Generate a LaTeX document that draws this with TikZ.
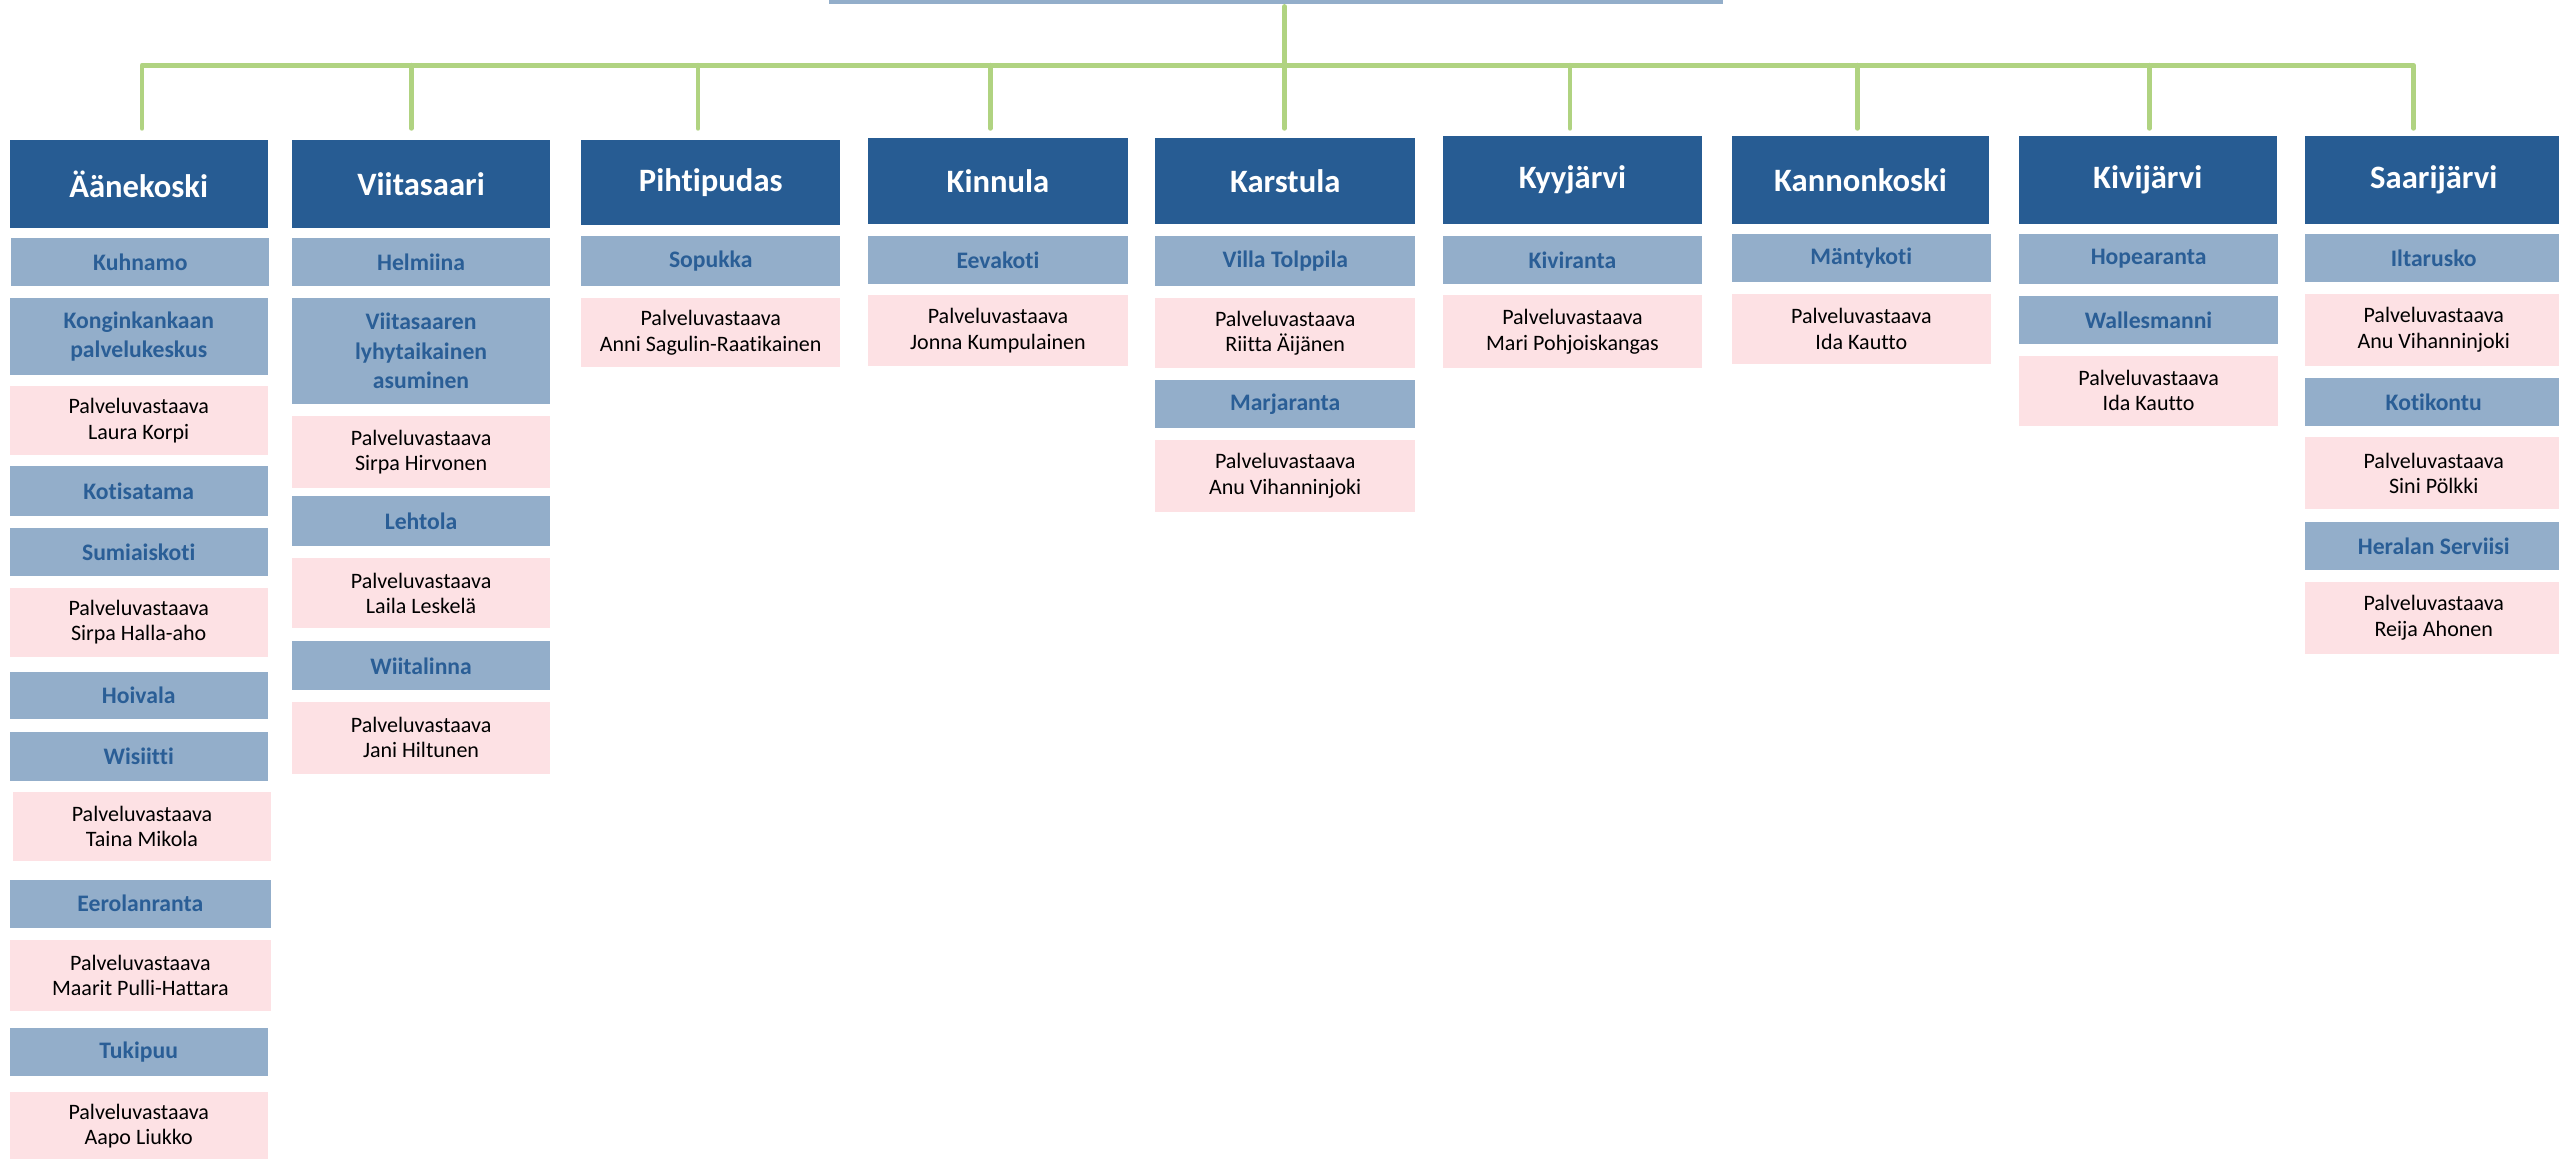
\documentclass[tikz,border=0pt]{standalone}
\usepackage{fontspec}
\setmainfont[Ligatures=NoCommon]{Carlito}
\definecolor{hdrblue}{RGB}{39,92,147}
\definecolor{subfill}{RGB}{147,174,202}
\definecolor{subtext}{RGB}{42,94,150}
\definecolor{pinkfill}{RGB}{253,225,228}
\definecolor{conngreen}{RGB}{176,211,129}
\tikzset{
  basebox/.style={rectangle, inner sep=0pt, outer sep=0pt, align=center},
  hdrbox/.style={basebox, fill=hdrblue, text=white, font=\fontsize{20}{24}\selectfont\bfseries},
  subbox/.style={basebox, fill=subfill, text=subtext, font=\fontsize{14.5}{18}\selectfont\bfseries},
  pinkbox/.style={basebox, fill=pinkfill, text=black, font=\fontsize{13.5}{15.5}\selectfont},
  topbox/.style={basebox, fill=subfill},
  conn/.style={draw=conngreen, line width=3pt, line cap=round, line join=round},
}
\newcommand\bx[7]{\node[#2, minimum width={(#5-#3)*1pt}, minimum height={(#6-#4)*1pt}] (#1) at ({(#3+#5)/2},{(#4+#6)/2}) {#7};}
\begin{document}
\begin{tikzpicture}[x=1pt,y=-1pt]
\useasboundingbox (0,0) rectangle (1568,710);
% top (cut-off) node
\bx{top}{topbox}{508}{-4}{1055.5}{2.5}{}
% headers
\bx{h1}{hdrbox}{6}{86}{164}{140}{Äänekoski}
\bx{h2}{hdrbox}{179}{86}{337}{140}{Viitasaari}
\bx{h3}{hdrbox}{356}{86}{515}{138}{Pihtipudas}
\bx{h4}{hdrbox}{532}{84.5}{691}{137}{Kinnula}
\bx{h5}{hdrbox}{708}{84.5}{867}{137}{Karstula}
\bx{h6}{hdrbox}{884}{83.5}{1043}{137}{Kyyjärvi}
\bx{h7}{hdrbox}{1061}{83.5}{1219}{137}{Kannonkoski}
\bx{h8}{hdrbox}{1237}{83.5}{1395}{137}{Kivijärvi}
\bx{h9}{hdrbox}{1412.5}{83.5}{1570}{137}{Saarijärvi}
% column 1
\bx{a1}{subbox}{7}{146}{165}{175}{Kuhnamo}
\bx{a2}{subbox}{6}{182.6}{164}{230}{Konginkankaan\\palvelukeskus}
\bx{a3}{pinkbox}{6}{236.5}{164}{279}{Palveluvastaava\\Laura Korpi}
\bx{a4}{subbox}{6}{285.5}{164}{316}{Kotisatama}
\bx{a5}{subbox}{6}{323.5}{164}{353}{Sumiaiskoti}
\bx{a6}{pinkbox}{6}{360}{164}{402.5}{Palveluvastaava\\Sirpa Halla-aho}
\bx{a7}{subbox}{6}{412}{164}{440.5}{Hoivala}
\bx{a8}{subbox}{6}{448.5}{164}{478.5}{Wisiitti}
\bx{a9}{pinkbox}{8}{485}{166}{527.5}{Palveluvastaava\\Taina Mikola}
\bx{a10}{subbox}{6}{539}{166}{568.5}{Eerolanranta}
\bx{a11}{pinkbox}{6}{576}{166}{619.5}{Palveluvastaava\\Maarit Pulli-Hattara}
\bx{a12}{subbox}{6}{630}{164}{659}{Tukipuu}
\bx{a13}{pinkbox}{6}{669}{164}{711}{Palveluvastaava\\Aapo Liukko}
% column 2
\bx{b1}{subbox}{179}{146}{337}{175}{Helmiina}
\bx{b2}{subbox}{179}{182.6}{337}{247.5}{Viitasaaren\\lyhytaikainen\\asuminen}
\bx{b3}{pinkbox}{179}{255}{337}{299}{Palveluvastaava\\Sirpa Hirvonen}
\bx{b4}{subbox}{179}{304}{337}{334.6}{Lehtola}
\bx{b5}{pinkbox}{179}{342}{337}{385}{Palveluvastaava\\Laila Leskelä}
\bx{b6}{subbox}{179}{393}{337}{423}{Wiitalinna}
\bx{b7}{pinkbox}{179}{430}{337}{474}{Palveluvastaava\\Jani Hiltunen}
% column 3
\bx{c1}{subbox}{356}{144.6}{515}{175}{Sopukka}
\bx{c2}{pinkbox}{356}{182.6}{515}{225}{Palveluvastaava\\Anni Sagulin-Raatikainen}
% column 4
\bx{d1}{subbox}{532}{144.6}{691}{174}{Eevakoti}
\bx{d2}{pinkbox}{532}{181}{691}{224}{Palveluvastaava\\Jonna Kumpulainen}
% column 5
\bx{e1}{subbox}{708}{144.6}{867}{175}{Villa Tolppila}
\bx{e2}{pinkbox}{708}{182.6}{867}{225.5}{Palveluvastaava\\Riitta Äijänen}
\bx{e3}{subbox}{708}{233}{867}{262}{Marjaranta}
\bx{e4}{pinkbox}{708}{269.6}{867}{313.5}{Palveluvastaava\\Anu Vihanninjoki}
% column 6
\bx{f1}{subbox}{884}{144.6}{1043}{174}{Kiviranta}
\bx{f2}{pinkbox}{884}{181}{1043}{225.5}{Palveluvastaava\\Mari Pohjoiskangas}
% column 7
\bx{g1}{subbox}{1061}{143.4}{1220}{172.6}{Mäntykoti}
\bx{g2}{pinkbox}{1061}{180}{1220}{223}{Palveluvastaava\\Ida Kautto}
% column 8
\bx{k1}{subbox}{1237}{143.4}{1396}{173.8}{Hopearanta}
\bx{k2}{subbox}{1237}{181.4}{1396}{210.6}{Wallesmanni}
\bx{k3}{pinkbox}{1237}{218}{1396}{260.8}{Palveluvastaava\\Ida Kautto}
% column 9
\bx{s1}{subbox}{1412.5}{143.4}{1570}{172.6}{Iltarusko}
\bx{s2}{pinkbox}{1412.5}{180}{1570}{224}{Palveluvastaava\\Anu Vihanninjoki}
\bx{s3}{subbox}{1412.5}{231.6}{1570}{260.8}{Kotikontu}
\bx{s4}{pinkbox}{1412.5}{268}{1570}{312}{Palveluvastaava\\Sini Pölkki}
\bx{s5}{subbox}{1412.5}{320}{1570}{349}{Heralan Serviisi}
\bx{s6}{pinkbox}{1412.5}{356.6}{1570}{400.5}{Palveluvastaava\\Reija Ahonen}
% connectors
\coordinate (t0) at (787,4);
\coordinate (bus) at (787,40);
\coordinate (p1) at (87,78.6);
\coordinate (p2) at (252,78.6);
\coordinate (p3) at (427.7,78.6);
\coordinate (p4) at (606.7,78.6);
\coordinate (p5) at (787,78.6);
\coordinate (p6) at (962,78.6);
\coordinate (p7) at (1138,78.6);
\coordinate (p8) at (1317,78.6);
\coordinate (p9) at (1479,78.6);
\draw[conn] (p1) -- (p1 |- bus) -- (p9 |- bus) -- (p9);
\draw[conn] (t0) -- (p5);
\foreach \p in {p2,p3,p4,p6,p7,p8} { \draw[conn] (\p |- bus) -- (\p); }
\end{tikzpicture}
\end{document}
